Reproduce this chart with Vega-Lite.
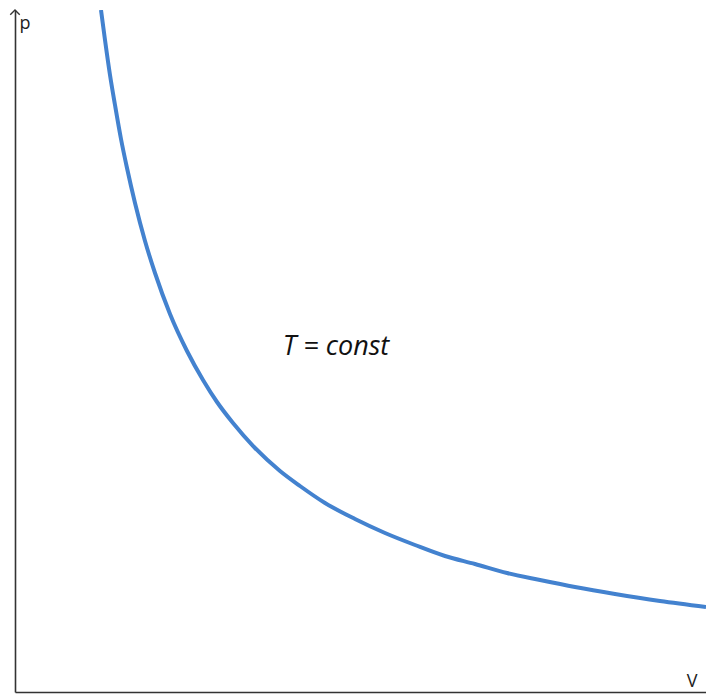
{
  "$schema": "https://vega.github.io/schema/vega-lite/v6.json",
  "autosize": {"type": "none"},
  "padding": {"left": 15, "top": 10, "right": 0, "bottom": 3},
  "width": 691,
  "height": 682,
  "background": "white",
  "config": {
    "view": {"stroke": null},
    "axis": {"grid": false, "labels": false, "ticks": false, "title": null, "domainColor": "#333333", "domainWidth": 1.6}
  },
  "datasets": {
    "curve": [
      {"V": 86, "p": 682},
      {"V": 90, "p": 652},
      {"V": 95, "p": 617},
      {"V": 100, "p": 587},
      {"V": 106, "p": 553},
      {"V": 112, "p": 524},
      {"V": 120, "p": 489},
      {"V": 130, "p": 451},
      {"V": 140, "p": 419},
      {"V": 155, "p": 378},
      {"V": 172, "p": 341},
      {"V": 188, "p": 312},
      {"V": 202, "p": 290},
      {"V": 218, "p": 269},
      {"V": 240, "p": 244},
      {"V": 265, "p": 221},
      {"V": 285, "p": 206},
      {"V": 310, "p": 189},
      {"V": 340, "p": 173},
      {"V": 370, "p": 159},
      {"V": 400, "p": 147},
      {"V": 430, "p": 136},
      {"V": 460, "p": 128},
      {"V": 492, "p": 119},
      {"V": 525, "p": 112},
      {"V": 560, "p": 105},
      {"V": 600, "p": 98},
      {"V": 645, "p": 91},
      {"V": 691, "p": 85}
    ],
    "labels": [
      {"V": 10, "p": 663, "text": "p", "align": "left"},
      {"V": 677, "p": 5, "text": "V", "align": "center"}
    ],
    "note": [
      {"V": 321, "p": 337, "text": "T = const"}
    ],
    "arrow": [
      {"V": 0, "p": 682}
    ]
  },
  "layer": [
    {
      "data": {"name": "curve"},
      "mark": {"type": "line", "color": "#4382CF", "strokeWidth": 4, "interpolate": "monotone", "clip": true},
      "encoding": {
        "x": {"field": "V", "type": "quantitative", "scale": {"domain": [0, 691], "nice": false, "zero": false}, "axis": {"orient": "bottom"}},
        "y": {"field": "p", "type": "quantitative", "scale": {"domain": [0, 682], "nice": false, "zero": false}, "axis": {"orient": "left"}}
      }
    },
    {
      "data": {"name": "arrow"},
      "mark": {"type": "point", "shape": "M-1,1L0,0L1,1", "filled": false, "stroke": "#333333", "strokeWidth": 1.4, "size": 90, "opacity": 1},
      "encoding": {
        "x": {"field": "V", "type": "quantitative"},
        "y": {"field": "p", "type": "quantitative"}
      }
    },
    {
      "data": {"name": "labels"},
      "mark": {"type": "text", "font": "Open Sans", "fontSize": 18, "baseline": "alphabetic", "color": "#222222"},
      "encoding": {
        "x": {"field": "V", "type": "quantitative"},
        "y": {"field": "p", "type": "quantitative"},
        "text": {"field": "text"},
        "align": {"field": "align"}
      }
    },
    {
      "data": {"name": "note"},
      "mark": {"type": "text", "font": "Open Sans", "fontSize": 27, "fontStyle": "italic", "baseline": "alphabetic", "align": "center", "color": "#111111"},
      "encoding": {
        "x": {"field": "V", "type": "quantitative"},
        "y": {"field": "p", "type": "quantitative"},
        "text": {"field": "text"}
      }
    }
  ]
}
